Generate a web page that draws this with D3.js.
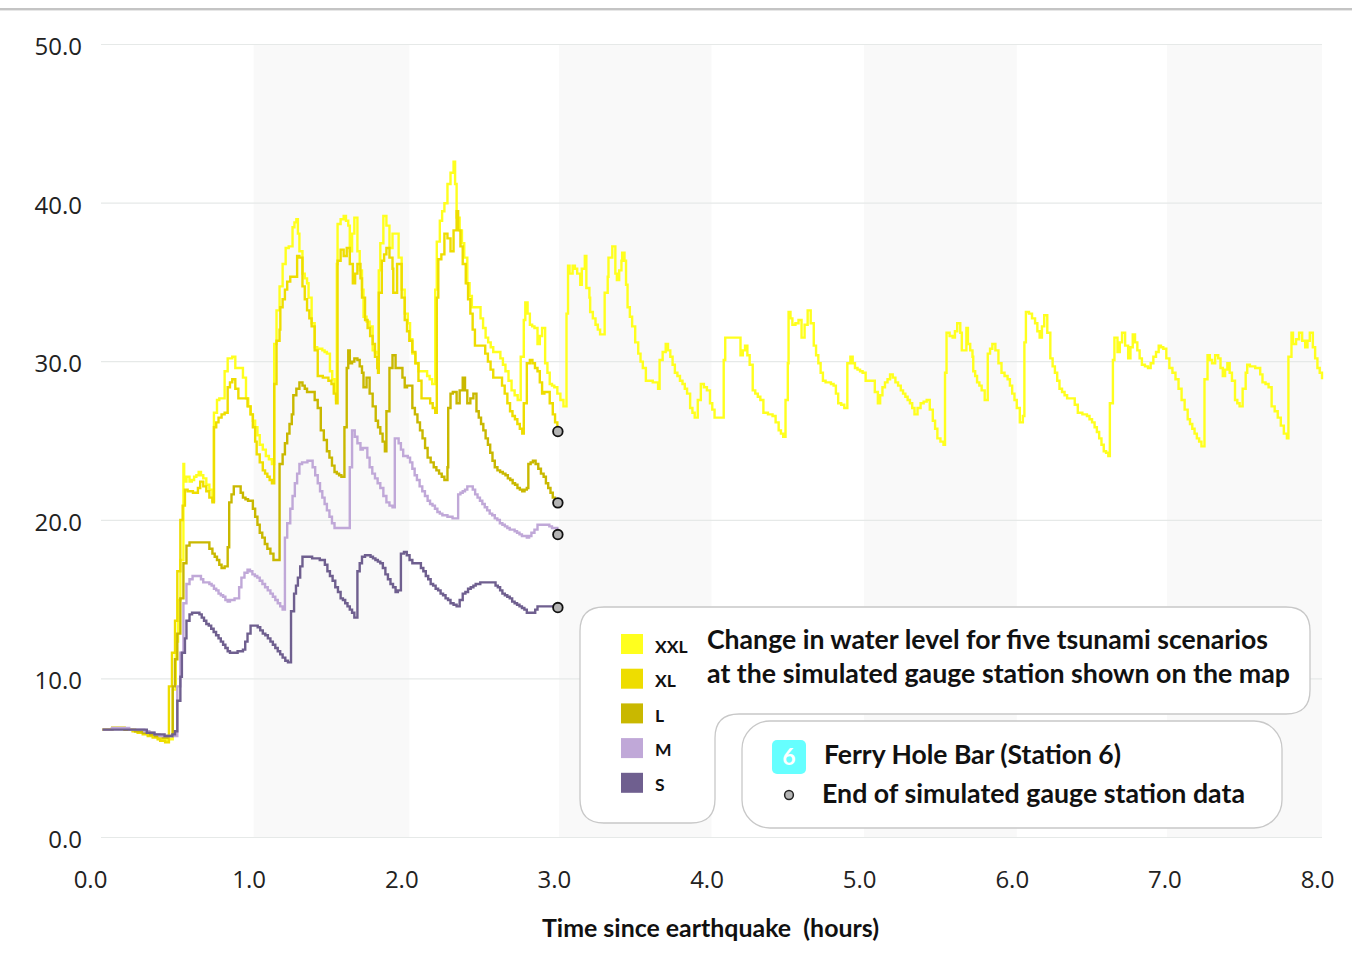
<!DOCTYPE html>
<html><head><meta charset="utf-8">
<script src="https://cdn.jsdelivr.net/npm/d3@7"></script>
<style>
html,body{margin:0;padding:0;background:#fff}
svg{display:block}
text{fill:#111;white-space:pre}
.tick text{font-family:"Open Sans",sans-serif;font-size:24px;fill:#222}
.lab{font-family:Lato,sans-serif;font-weight:700}
</style></head><body>
<svg id="c" width="1352" height="960"></svg>
<script>
const xTicks=[0,1,2,3,4,5,6,7,8];
const yTicks=[0,10,20,30,40,50];
const shadedHours=[[1,2.02],[3,4],[5,6],[6.985,8]];
const scenarioNames=["XXL","XL","L","M","S"];
const scenarioColors=["#ffff1e","#eedd00","#c9b800","#c0a8d8","#6f5f8f"];

const xxlT=[0.01,0.12,0.19,0.29,0.42,0.45,0.47,0.49,0.52,0.54,0.545,0.56,0.58,0.64,0.67,0.71,0.73,0.74,0.76,0.79,0.81,0.83,0.86,0.88,0.91,0.93,0.95,0.98,1.01,1.04,1.08,1.12,1.13,1.135,1.15,1.17,1.19,1.21,1.25,1.255,1.28,1.29,1.30,1.32,1.35,1.36,1.38,1.40,1.45,1.48,1.50,1.53,1.54,1.545,1.55,1.59,1.62,1.63,1.66,1.68,1.71,1.72,1.76,1.78,1.81,1.815,1.82,1.83,1.85,1.87,1.89,1.91,1.93,1.95,1.97,1.99,2.01,2.04,2.08,2.12,2.17,2.175,2.19,2.20,2.22,2.25,2.27,2.31,2.32,2.33,2.35,2.38,2.40,2.43,2.47,2.52,2.57,2.60,2.65,2.69,2.73,2.75,2.77,2.78,2.81,2.84,2.86,2.89,2.91,2.94,2.97,3.01,3.03,3.05,3.06,3.07,3.09,3.12,3.14,3.15,3.17,3.18,3.20,3.205,3.24,3.27,3.29,3.30,3.32,3.325,3.35,3.37,3.38,3.41,3.415,3.43,3.44,3.45,3.48,3.50,3.52,3.55,3.57,3.63,3.65,3.66,3.70,3.73,3.76,3.81,3.84,3.86,3.89,3.91,3.93,3.97,3.99,4.02,4.06,4.08,4.09,4.12,4.17,4.19,4.22,4.25,4.27,4.32,4.34,4.40,4.44,4.47,4.50,4.505,4.53,4.57,4.59,4.63,4.65,4.67,4.70,4.73,4.80,4.83,4.87,4.89,4.91,4.94,4.99,5.01,5.05,5.09,5.12,5.17,5.24,5.30,5.33,5.37,5.41,5.45,5.48,5.52,5.53,5.54,5.58,5.61,5.63,5.64,5.66,5.67,5.68,5.71,5.715,5.74,5.77,5.79,5.81,5.84,5.86,5.88,5.90,5.94,5.97,6.00,6.02,6.04,6.05,6.06,6.08,6.12,6.15,6.18,6.20,6.22,6.25,6.28,6.33,6.36,6.40,6.46,6.51,6.57,6.60,6.61,6.63,6.64,6.66,6.69,6.73,6.76,6.79,6.82,6.86,6.93,6.96,7.00,7.04,7.08,7.12,7.18,7.21,7.23,7.25,7.28,7.30,7.32,7.35,7.38,7.41,7.43,7.46,7.50,7.51,7.58,7.61,7.65,7.67,7.71,7.75,7.77,7.78,7.80,7.81,7.85,7.89,7.92,7.94,7.97,8.00];
const xxlV=[6.8,6.9,6.8,6.6,6.1,6.2,9.3,12.4,17.5,23.5,22.4,22.7,22.4,23.0,22.6,21.9,21.2,26.8,27.6,27.7,29.4,30.2,30.3,29.6,29.6,29.0,27.7,26.7,25.9,24.8,24.1,23.6,23.6,31.1,33.2,34.7,36.2,37.2,37.3,38.5,39.0,38.1,37.0,35.6,34.9,34.0,32.4,30.9,30.7,30.5,29.4,28.4,27.6,36.2,38.7,39.2,38.6,37.0,39.1,37.0,34.5,32.8,32.2,30.7,30.5,30.5,35.8,37.5,39.2,38.6,37.2,38.1,38.1,36.6,34.5,33.0,32.4,30.5,29.4,29.4,28.6,28.6,34.5,37.6,38.9,40.0,41.2,42.6,41.2,39.1,38.3,36.6,34.9,33.4,33.4,31.5,30.6,30.6,29.4,28.2,27.6,30.3,32.6,33.7,32.3,32.1,31.1,32.1,29.9,28.6,28.4,27.6,27.2,33.0,36.1,35.6,36.1,35.6,34.8,35.9,36.7,34.6,34.0,33.1,32.3,31.7,31.7,34.3,35.4,36.6,37.3,35.6,35.2,36.4,36.9,36.4,34.8,33.4,32.2,31.2,30.5,29.6,28.8,28.7,28.3,30.1,31.1,30.3,29.3,28.6,28.0,27.1,26.5,27.6,28.6,28.2,27.4,26.5,26.5,30.1,31.5,31.5,31.5,30.4,31.0,29.8,28.2,27.6,26.8,26.6,25.7,25.3,29.9,33.1,32.3,32.6,31.5,33.2,32.4,31.0,29.9,28.8,28.5,27.4,27.1,29.9,30.3,29.6,29.3,28.8,28.8,27.4,28.4,29.2,28.2,27.4,26.7,27.4,27.6,26.3,25.2,24.8,29.3,31.8,31.5,32.4,31.8,30.7,30.7,32.1,31.1,30.3,29.4,28.7,28.2,27.6,30.5,31.1,30.7,29.9,29.3,28.9,28.0,27.1,26.2,26.6,31.2,33.1,33.0,32.4,31.5,32.9,31.8,30.2,29.3,28.3,27.7,27.7,26.8,26.6,25.9,24.4,24.1,27.4,30.1,31.5,30.6,31.8,30.2,31.7,30.7,29.8,29.6,31.0,30.8,29.6,28.9,27.6,26.4,25.2,24.7,28.9,30.4,29.9,30.4,30.2,29.1,29.9,28.8,27.6,27.2,29.3,29.8,29.6,28.7,28.4,27.2,26.5,25.5,25.2,30.3,31.8,31.1,31.8,30.9,31.8,30.9,29.6,28.9];

const xlT=[0.01,0.12,0.19,0.29,0.42,0.44,0.445,0.465,0.485,0.50,0.52,0.55,0.62,0.65,0.69,0.73,0.74,0.77,0.81,0.83,0.86,0.90,0.94,0.98,1.01,1.02,1.06,1.12,1.13,1.135,1.15,1.17,1.175,1.22,1.24,1.27,1.285,1.30,1.32,1.35,1.38,1.40,1.42,1.47,1.51,1.54,1.55,1.57,1.59,1.61,1.63,1.65,1.68,1.70,1.71,1.73,1.78,1.81,1.815,1.82,1.84,1.87,1.91,1.915,1.93,1.94,1.95,1.97,1.99,2.02,2.06,2.10,2.14,2.19,2.20,2.21,2.23,2.25,2.27,2.29,2.33,2.34,2.37,2.39,2.42,2.45,2.50,2.57,2.61,2.68,2.76,2.77,2.79,2.81,2.86,2.89,2.92,2.96,2.99];
const xlV=[6.8,6.9,6.8,6.5,6.0,6.0,9.5,11.6,13.7,16.8,20.0,21.9,21.7,22.4,21.8,21.1,25.9,26.5,26.8,28.4,28.9,27.7,27.7,26.7,25.0,24.2,23.1,22.3,22.3,28.6,31.3,32.0,33.4,35.1,35.4,35.4,36.7,36.6,34.7,33.2,32.2,30.7,29.1,29.0,28.6,27.4,36.4,37.1,36.7,37.2,36.2,35.0,36.2,35.3,34.0,32.6,31.1,29.6,29.3,34.3,36.4,37.2,35.9,34.3,34.3,36.2,36.2,34.0,32.6,31.3,29.9,27.7,27.7,26.8,34.0,36.5,36.8,38.1,37.8,37.0,39.5,38.3,36.2,34.9,33.0,31.0,31.0,29.0,29.0,26.9,25.5,27.4,29.9,30.1,29.4,28.0,28.1,26.7,25.6];

const lT=[0.01,0.12,0.19,0.29,0.42,0.45,0.47,0.50,0.52,0.54,0.56,0.58,0.69,0.73,0.79,0.81,0.83,0.84,0.87,0.90,0.93,0.98,1.01,1.04,1.09,1.13,1.165,1.17,1.19,1.22,1.25,1.26,1.30,1.32,1.35,1.38,1.42,1.44,1.48,1.53,1.59,1.595,1.61,1.62,1.63,1.66,1.68,1.71,1.72,1.74,1.76,1.80,1.83,1.86,1.87,1.89,1.91,1.93,1.96,1.99,2.02,2.04,2.09,2.14,2.18,2.25,2.27,2.275,2.29,2.32,2.33,2.37,2.40,2.44,2.46,2.52,2.58,2.65,2.76,2.79,2.80,2.83,2.90,2.96,2.99];
const lV=[6.8,6.9,6.8,6.6,6.3,6.4,9.5,12.9,15.1,17.3,18.4,18.6,18.6,17.9,17.0,17.1,18.3,21.1,22.1,22.1,21.4,21.2,20.2,19.2,18.2,17.5,17.5,23.6,24.2,25.5,26.7,27.9,28.7,28.5,28.1,28.1,27.1,25.7,24.4,23.0,22.7,25.9,29.6,30.7,29.9,30.2,30.1,29.3,28.4,29.0,28.0,26.3,25.5,24.4,26.9,29.6,30.4,29.6,29.6,28.4,28.5,27.1,25.7,24.0,23.3,22.5,23.3,27.1,28.0,28.1,27.4,29.0,27.4,28.0,26.9,25.2,23.3,22.8,21.8,22.0,23.6,23.8,22.7,21.4,21.1];

const mT=[0.01,0.12,0.25,0.40,0.48,0.50,0.52,0.54,0.56,0.60,0.64,0.67,0.71,0.77,0.83,0.89,0.92,0.96,1.04,1.11,1.19,1.20,1.205,1.22,1.24,1.27,1.30,1.37,1.42,1.48,1.53,1.62,1.63,1.645,1.68,1.70,1.73,1.76,1.83,1.87,1.91,1.925,1.95,1.98,2.01,2.07,2.14,2.22,2.32,2.34,2.40,2.42,2.53,2.63,2.79,2.82,2.86,2.92,2.99];
const mV=[6.8,6.9,6.8,6.4,6.4,9.5,11.6,14.8,16.0,16.5,16.5,16.1,16.0,15.4,14.9,15.1,16.4,16.9,16.2,15.4,14.4,14.4,18.9,19.8,20.7,22.3,23.6,23.8,22.3,20.6,19.5,19.5,23.3,25.7,24.9,24.5,24.6,23.3,22.0,21.1,20.8,25.2,24.9,24.1,24.0,22.5,21.2,20.4,20.1,21.6,22.1,22.1,20.6,19.7,18.9,19.2,19.7,19.7,19.4];

const sT=[0.01,0.29,0.30,0.45,0.485,0.50,0.52,0.53,0.55,0.56,0.58,0.63,0.69,0.77,0.83,0.86,0.93,0.96,0.98,1.01,1.11,1.19,1.225,1.245,1.265,1.29,1.32,1.35,1.45,1.50,1.57,1.60,1.66,1.68,1.71,1.75,1.83,1.88,1.93,1.945,1.965,1.985,2.04,2.08,2.16,2.29,2.33,2.37,2.44,2.50,2.57,2.63,2.79,2.83,2.86,2.99];
const sV=[6.8,6.8,6.6,6.4,6.7,8.6,10.1,11.6,12.6,13.7,14.1,14.2,13.5,12.6,11.7,11.6,11.8,12.9,13.4,13.4,12.4,11.3,11.0,14.3,15.4,16.4,17.7,17.7,17.5,16.5,15.1,14.8,13.9,16.8,17.7,17.8,17.3,16.3,15.5,15.6,17.9,18.0,17.3,17.3,16.0,14.8,14.6,15.4,15.9,16.1,16.1,15.4,14.2,14.2,14.6,14.6];

const seriesT=[xxlT,xlT,lT,mT,sT];
const seriesV=[xxlV,xlV,lV,mV,sV];
const endHours=[3.0,3.0,3.0,3.0];
const endValues=[25.6,21.1,19.1,14.5];

const titleLines=["Change in water level for five tsunami scenarios","at the simulated gauge station shown on the map"];
const stationLabel="Ferry Hole Bar (Station 6)";
const endLabel="End of simulated gauge station data";
const xAxisTitle="Time since earthquake  (hours)";

const x=d3.scaleLinear().domain([0,8]).range([101,1322]);
const y=d3.scaleLinear().domain([0,50]).range([837.5,44.5]);
const svg=d3.select("#c");

svg.append("rect").attr("x",0).attr("y",8).attr("width",1352).attr("height",2.4).attr("fill","#c4c4c4");

svg.selectAll("rect.band").data(shadedHours).join("rect").attr("class","band")
  .attr("x",d=>x(d[0])).attr("width",d=>x(d[1])-x(d[0]))
  .attr("y",y(50)).attr("height",y(0)-y(50)).attr("fill","#f9f9f9");

svg.selectAll("line.grid").data(yTicks).join("line").attr("class","grid")
  .attr("x1",101).attr("x2",1322).attr("y1",d=>y(d)).attr("y2",d=>y(d))
  .attr("stroke","#e6e9e8").attr("stroke-width",1.2);

const yAxis=svg.append("g").attr("transform","translate(101,0)")
  .call(d3.axisLeft(y).tickValues(yTicks).tickFormat(d3.format(".1f")).tickSize(0).tickPadding(19));
yAxis.select(".domain").remove();
yAxis.selectAll("text").attr("dy","0.42em");

const xAxis=svg.append("g").attr("transform","translate(0,837)")
  .call(d3.axisBottom(x).tickValues(xTicks).tickFormat(d3.format(".1f")).tickSize(0).tickPadding(34));
xAxis.select(".domain").remove();
xAxis.selectAll("text").attr("dx",d=>d===0?"-11":"-5");

/* Line style of the source: a one-minute staircase drawn between the read points */
function staircase(context){
  const stepPx=(x(1)-x(0))/60, riseGrid=1.6;
  let px,py,started=false;
  const q=v=>Math.round(v/riseGrid)*riseGrid;
  return {
    areaStart(){},areaEnd(){},
    lineStart(){started=false;},
    lineEnd(){},
    point(a,b){
      if(!started){context.moveTo(a,q(b));started=true;}
      else{
        const n=Math.max(1,Math.round((a-px)/stepPx));
        for(let k=1;k<=n;k++){
          const xk=px+(a-px)*k/n;
          context.lineTo(xk,q(py+(b-py)*(k-1)/n));
          context.lineTo(xk,q(py+(b-py)*k/n));
        }
      }
      px=a;py=b;
    }
  };
}
const line=d3.line().x(d=>x(d[0])).y(d=>y(d[1])).curve(staircase);
scenarioNames.forEach((n,i)=>{
  svg.append("path").datum(d3.zip(seriesT[i],seriesV[i]))
    .attr("fill","none").attr("stroke",scenarioColors[i]).attr("stroke-width",2.4)
    .attr("stroke-linejoin","miter").attr("d",line);
});

svg.selectAll("circle.end").data(d3.zip(endHours,endValues)).join("circle").attr("class","end")
  .attr("cx",d=>x(d[0])-1).attr("cy",d=>y(d[1])).attr("r",4.8)
  .attr("fill","#b4b4b4").attr("stroke","#111").attr("stroke-width",1.8);

/* legend panels */
svg.append("path").attr("fill","#fff").attr("stroke","#c8c8c8").attr("stroke-width",1.3)
 .attr("d","M604,607 H1286 Q1310,607 1310,631 V690 Q1310,714 1286,714 H739 Q715,714 715,738 V799 Q715,823 691,823 H604 Q580,823 580,799 V631 Q580,607 604,607 Z");
svg.append("rect").attr("x",742).attr("y",721).attr("width",540).attr("height",107).attr("rx",28)
 .attr("fill","#fff").attr("stroke","#c8c8c8").attr("stroke-width",1.3);

function label(t,xp,yp,size,len){
  const e=svg.append("text").attr("class","lab").attr("x",xp).attr("y",yp).attr("font-size",size).text(t);
  if(len) e.attr("textLength",len).attr("lengthAdjust","spacingAndGlyphs");
  return e;
}
scenarioNames.forEach((n,i)=>{
  svg.append("rect").attr("x",621).attr("y",634+i*34.7).attr("width",22).attr("height",20).attr("fill",scenarioColors[i]);
  label(n,655,652.5+i*34.6,17.5);
});
label(titleLines[0],707,649,26,561);
label(titleLines[1],707,683,26,583);
svg.append("rect").attr("x",772).attr("y",740).attr("width",34).attr("height",34).attr("rx",5).attr("fill","#66ffff");
label("6",789,765,23).attr("text-anchor","middle").style("fill","#fff");
label(stationLabel,824,764,26,297);
svg.append("circle").attr("cx",789).attr("cy",795).attr("r",4.4).attr("fill","#b4b4b4").attr("stroke","#222").attr("stroke-width",1.5);
label(endLabel,822,803,26,423);
label(xAxisTitle,542,937,24,337);
</script>
</body></html>
